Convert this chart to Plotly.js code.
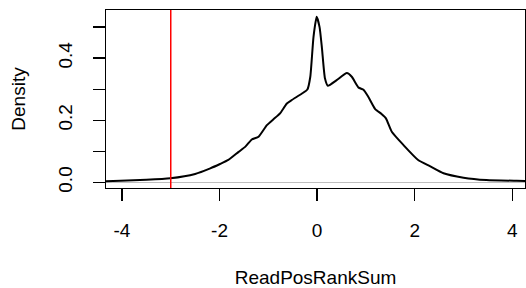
<!DOCTYPE html>
<html>
<head>
<meta charset="utf-8">
<script src="https://cdn.plot.ly/plotly-3.0.1.min.js"></script>
<style>html,body{margin:0;padding:0;background:#fff;}#chart{width:526px;height:288px;}</style>
</head>
<body>
<div id="chart"></div>
<script>
const densityX = [-4.5, -4.03, -3.5, -3.01, -2.50, -2.19, -1.99, -1.82, -1.61, -1.47, -1.34, -1.20, -1.03, -0.895, -0.76, -0.62, -0.52, -0.31, -0.20, -0.14, -0.075, -0.01, 0.05, 0.10, 0.16, 0.22, 0.40, 0.61, 0.71, 0.85, 0.95, 1.05, 1.19, 1.32, 1.41, 1.53, 1.77, 2.07, 2.31, 2.59, 3.00, 3.47, 4.09, 4.5];
const densityY = [0.003, 0.005, 0.008, 0.013, 0.027, 0.045, 0.059, 0.072, 0.098, 0.115, 0.138, 0.147, 0.184, 0.203, 0.222, 0.254, 0.265, 0.286, 0.299, 0.340, 0.468, 0.533, 0.500, 0.430, 0.335, 0.311, 0.329, 0.352, 0.340, 0.305, 0.298, 0.275, 0.236, 0.220, 0.206, 0.163, 0.120, 0.072, 0.052, 0.029, 0.015, 0.0074, 0.005, 0.004];
const cutoffX = -3;
const xTickVals = [-4, -2, 0, 2, 4];
const xTickText = ["-4", "-2", "0", "2", "4"];
const yTickVals = [0, 0.1, 0.2, 0.3, 0.4, 0.5];
const yTickText = ["0.0", "", "0.2", "", "0.4", ""];
const xTitle = "ReadPosRankSum";
const yTitle = "Density";

const font = {family: "Liberation Sans, Arial, sans-serif", size: 19, color: "#000"};

const traces = [{
  x: densityX, y: densityY, type: "scatter", mode: "lines",
  line: {color: "#000", width: 2, shape: "spline", smoothing: 0.5},
  hoverinfo: "skip", cliponaxis: true
}];

const layout = {
  width: 526, height: 288,
  margin: {l: 106, r: 1, t: 10, b: 100, pad: 0},
  paper_bgcolor: "#fff", plot_bgcolor: "#fff",
  showlegend: false,
  font: font,
  xaxis: {
    range: [-4.327, 4.26], autorange: false,
    tickvals: xTickVals, ticktext: xTickText,
    ticks: "outside", ticklen: 12, tickwidth: 1.3, tickcolor: "#000",
    showline: true, mirror: true, linecolor: "#000", linewidth: 1.3,
    showgrid: false, zeroline: false,
    tickfont: font, ticklabelstandoff: 13,
    title: {text: xTitle, font: font, standoff: 31},
    automargin: false
  },
  yaxis: {
    range: [-0.0183, 0.555], autorange: false,
    tickvals: yTickVals, ticktext: yTickText,
    ticks: "outside", ticklen: 12, tickwidth: 1.3, tickcolor: "#000",
    showline: true, mirror: true, linecolor: "#000", linewidth: 1.3,
    showgrid: false, zeroline: true, zerolinecolor: "#bebebe", zerolinewidth: 1,
    tickangle: -90, tickfont: font, ticklabelstandoff: 13,
    title: {text: yTitle, font: font, standoff: 24},
    automargin: false
  },
  shapes: [{
    type: "line", xref: "x", yref: "paper", x0: cutoffX, x1: cutoffX, y0: 0, y1: 1,
    line: {color: "#ff0000", width: 1.5}
  }]
};

Plotly.newPlot("chart", traces, layout, {displayModeBar: false, staticPlot: true});
</script>
</body>
</html>
